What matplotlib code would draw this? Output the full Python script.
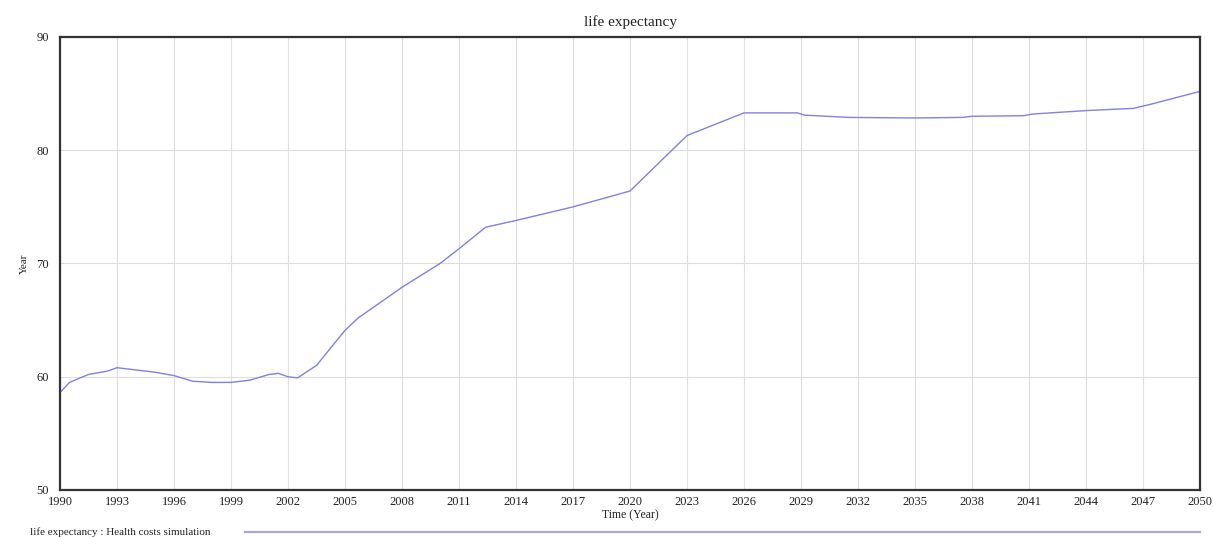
import matplotlib
matplotlib.use("Agg")
import matplotlib.pyplot as plt
from matplotlib.lines import Line2D

# Simulated life expectancy over time (Health costs simulation run)
years = [1990, 1990.5, 1991.5, 1992.5, 1993, 1994, 1995, 1996, 1997, 1998,
         1999, 2000, 2001, 2001.5, 2002, 2002.5, 2003.5, 2005, 2005.7, 2008,
         2010, 2011, 2012.4, 2014, 2017, 2020, 2023, 2026, 2028.8, 2029.2,
         2031.5, 2035, 2037.5, 2038, 2040.7, 2041.2, 2044, 2046.5, 2047.5, 2050]
life_expectancy = [58.6, 59.5, 60.2, 60.5, 60.8, 60.6, 60.4, 60.1, 59.6, 59.5,
                   59.5, 59.7, 60.2, 60.3, 60.0, 59.9, 61.0, 64.1, 65.2, 67.9,
                   70.0, 71.3, 73.2, 73.8, 75.0, 76.4, 81.3, 83.3, 83.3, 83.1,
                   82.9, 82.85, 82.9, 83.0, 83.05, 83.2, 83.5, 83.7, 84.1, 85.2]

x_ticks = list(range(1990, 2051, 3))
y_ticks = [50, 60, 70, 80, 90]

title = "life expectancy"
x_label = "Time (Year)"
y_label = "Year"
legend_label = "life expectancy : Health costs simulation"

line_color = "#8080e8"
legend_color = "#a8a8dc"
grid_color = "#dedede"
spine_color = "#333333"

plt.rcParams["font.family"] = ["Liberation Serif", "DejaVu Serif"]

W, H = 1213, 537
fig = plt.figure(figsize=(W / 100, H / 100), dpi=100)
ax = fig.add_axes([60 / W, 1 - 490 / H, (1200 - 60) / W, (490 - 37) / H])

ax.plot(years, life_expectancy, color=line_color, linewidth=1.0)

ax.set_xlim(1990, 2050)
ax.set_ylim(50, 90)
ax.set_xticks(x_ticks)
ax.set_yticks(y_ticks)
ax.tick_params(axis="both", length=0, labelsize=9, colors="#222222")
ax.tick_params(axis="x", pad=4)
ax.tick_params(axis="y", pad=8)
ax.grid(True, color=grid_color, linewidth=0.8)
ax.set_axisbelow(True)

for side, spine in ax.spines.items():
    spine.set_color(spine_color)
    spine.set_linewidth(1.6)

ax.set_title(title, fontsize=11, pad=8, color="#222222")
ax.set_xlabel(x_label, fontsize=8.5, labelpad=1, color="#222222")
ax.set_ylabel(y_label, fontsize=8, labelpad=5, color="#222222")

# Legend strip along the bottom edge
fig.text(30 / W, 1 - 532 / H, legend_label, fontsize=8, va="center",
         ha="left", color="#222222")
fig.add_artist(Line2D([245 / W, 1200 / W], [1 - 531.5 / H, 1 - 531.5 / H],
                      transform=fig.transFigure, color=legend_color,
                      linewidth=1.6))

fig.savefig("out.png", dpi=100, facecolor="white")
